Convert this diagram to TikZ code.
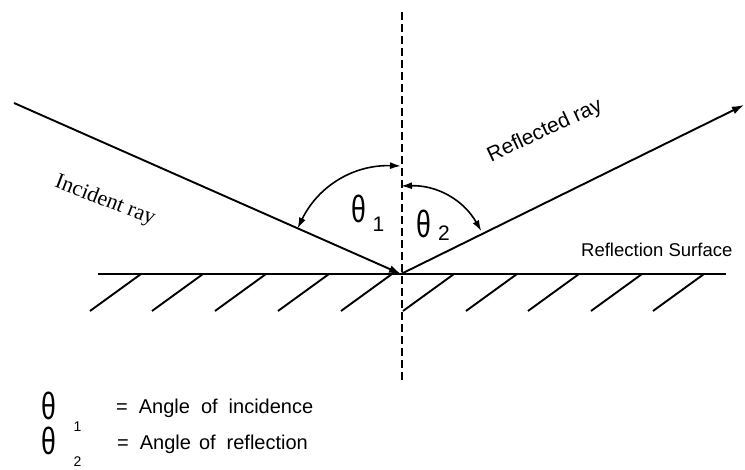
\documentclass[tikz,border=0pt]{standalone}
\usepackage{fontspec}
\setmainfont{Liberation Serif}
\setsansfont{Liberation Sans}
\usepackage{graphicx}
\usetikzlibrary{arrows.meta,calc}
\newcommand{\thetaglyph}{\scalebox{0.7}[1]{θ}}
\newcommand{\hatchmark}[1]{\draw[hatch] (#1,159) -- ++(51,37);}
\newcommand{\gap}{\hspace{11pt}}
\tikzset{
	ray/.style={line width=1.9pt,-{Latex[length=12pt,width=8pt]}},
	angarrow/.style={line width=1.6pt,{Latex[length=11pt,width=7pt]}-{Latex[length=11pt,width=7pt]}},
	normalline/.style={line width=1.8pt,dash pattern=on 8pt off 4pt},
	surface/.style={line width=1.9pt},
	hatch/.style={line width=1.9pt},
	thetabig/.style={font=\sffamily\fontsize{38}{38}\selectfont,inner sep=0pt},
	subbig/.style={font=\sffamily\fontsize{21}{21}\selectfont,inner sep=0pt},
	subsmall/.style={font=\sffamily\fontsize{14}{14}\selectfont,inner sep=0pt},
	legendtext/.style={font=\sffamily\fontsize{20}{22}\selectfont,inner sep=0pt,anchor=base west},
}

\begin{document}
\begin{tikzpicture}[x=1pt,y=1pt]
		\useasboundingbox (0,0) rectangle (745,470);
		% geometry
		\coordinate (O) at (401,196);
		\coordinate (src) at (14,367);
		\coordinate (dst) at (744,365);
		\coordinate (ntop) at (402,458);
		\coordinate (nbot) at (402,90);
		\coordinate (sleft) at (98,196);
		\coordinate (sright) at (726,196);
		% surface and hatching
		\draw[surface] (sleft) -- (sright);
		\hatchmark{90} \hatchmark{152} \hatchmark{215} \hatchmark{278} \hatchmark{341}
		\hatchmark{403} \hatchmark{466} \hatchmark{528} \hatchmark{591} \hatchmark{653}
		\draw[normalline] (ntop) -- (nbot);
		% rays
		\draw[ray] (src) -- (O);
		\draw[ray] (O) -- (dst);
		% angle markers
		\coordinate (a1) at ($(O)+(156.3:113)$);
		\coordinate (b1) at ($(O)+(90:108)$);
		\coordinate (a2) at ($(O)+(90:88)$);
		\coordinate (b2) at ($(O)+(28:91)$);
		\draw[angarrow] (a1) to[bend left=33] (b1);
		\draw[angarrow] (a2) to[bend left=31] (b2);
		\node[thetabig] (th1) at (359,261) {\thetaglyph};
		\node[subbig] (s1) at (378.5,245.5) {1};
		\node[thetabig] (th2) at (423.5,246) {\thetaglyph};
		\node[subbig] (s2) at (444,237) {2};
		% labels
		\node[font=\fontsize{22}{22}\selectfont,inner sep=0pt,rotate=-21] (inc) at (105,269) {Incident ray};
		\node[font=\sffamily\fontsize{21}{21}\selectfont,inner sep=0pt,rotate=25] (refl) at (545,339) {Reflected ray};
		\node[legendtext,font=\sffamily\fontsize{18.5}{20}\selectfont] (surf) at (581,213) {Reflection Surface};
		% legend
		\node[thetabig] (lt1) at (49,64) {\thetaglyph};
		\node[subsmall] (ls1) at (77.5,43) {1};
		\node[legendtext] (def1) at (116,56) {=\gap Angle\gap of\gap incidence};
		\node[thetabig] (lt2) at (49,29) {\thetaglyph};
		\node[subsmall] (ls2) at (77.5,8) {2};
		\node[legendtext] (def2) at (117,20) {=\gap Angle\hspace{8pt}of\gap reflection};
\end{tikzpicture}
\end{document}
